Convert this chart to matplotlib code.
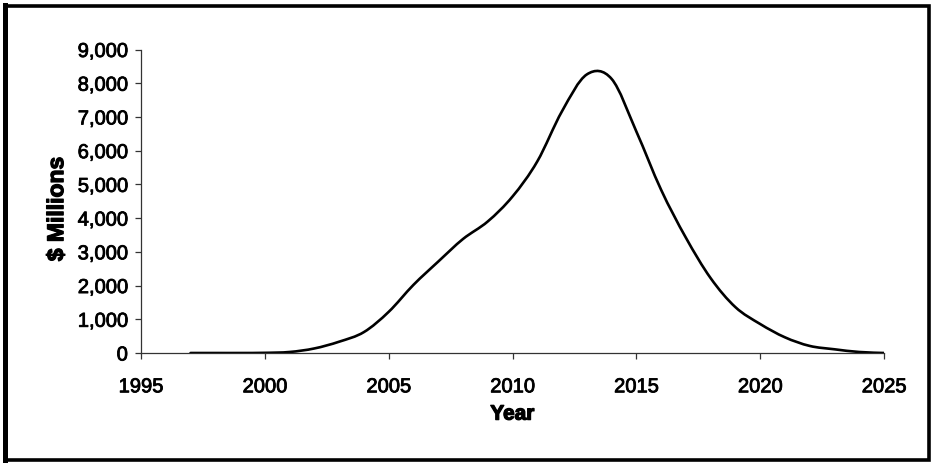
import matplotlib
matplotlib.use("Agg")
import matplotlib.pyplot as plt
import matplotlib.patheffects as pe
from matplotlib.patches import Rectangle, PathPatch
from matplotlib.path import Path
from matplotlib.lines import Line2D
from matplotlib.ticker import FuncFormatter, MultipleLocator

plt.rcParams['font.family'] = ['Liberation Sans', 'DejaVu Sans']

# Annual spending, $ millions
years = list(range(1997, 2026))
spending = [0, 0, 0, 5, 30, 135, 335, 620, 1220, 2020, 2710, 3380, 3900,
            4640, 5680, 7170, 8260, 8130, 6570, 4840, 3420, 2220, 1360,
            860, 465, 210, 110, 30, 0]

x_ticks = [1995, 2000, 2005, 2010, 2015, 2020, 2025]


def smooth_path(xs, ys):
    """Cubic Bezier path through the points (Catmull-Rom style tangents)."""
    pts = list(zip(xs, ys))
    n = len(pts)
    verts = [pts[0]]
    codes = [Path.MOVETO]
    for i in range(n - 1):
        p0 = pts[i - 1] if i > 0 else pts[i]
        p1 = pts[i]
        p2 = pts[i + 1]
        p3 = pts[i + 2] if i + 2 < n else pts[i + 1]
        c1 = (p1[0] + (p2[0] - p0[0]) / 6, p1[1] + (p2[1] - p0[1]) / 6)
        c2 = (p2[0] - (p3[0] - p1[0]) / 6, p2[1] - (p3[1] - p1[1]) / 6)
        verts += [c1, c2, p2]
        codes += [Path.CURVE4] * 3
    return Path(verts, codes)


fig = plt.figure(figsize=(9.32, 4.63), dpi=100)
ax = fig.add_axes([141/932, 1 - 353/463, (884 - 141)/932, (353 - 49.5)/463])

ax.add_patch(PathPatch(smooth_path(years, spending), facecolor='none',
                       edgecolor='black', lw=1.9, capstyle='round',
                       joinstyle='round'))

ax.set_xlim(1995, 2025)
ax.set_ylim(0, 9000)
ax.set_xticks(x_ticks)
ax.yaxis.set_major_locator(MultipleLocator(1000))
ax.yaxis.set_major_formatter(FuncFormatter(lambda v, p: f"{int(v):,}"))

for s in ['top', 'right']:
    ax.spines[s].set_visible(False)
for s in ['left', 'bottom']:
    ax.spines[s].set_color('#333333')
    ax.spines[s].set_linewidth(0.9)

ax.tick_params(axis='both', direction='out', length=4.5, width=0.9,
               color='#333333', labelsize=14.5, labelcolor='black')
ax.tick_params(axis='x', pad=13)
ax.tick_params(axis='y', pad=5)

heavy = [pe.withStroke(linewidth=0.6, foreground='black')]
for lbl in ax.get_xticklabels() + ax.get_yticklabels():
    lbl.set_path_effects(heavy)

bolder = [pe.withStroke(linewidth=0.9, foreground='black')]
ax.set_xlabel('Year', fontsize=15, fontweight='bold', labelpad=6,
              path_effects=bolder)
ax.set_ylabel('$ Millions', fontsize=16.5, fontweight='bold',
              path_effects=bolder)
ax.yaxis.set_label_coords(-0.098, 0.474)

# Outer frame around the whole chart
fig.add_artist(Rectangle((5/932, 1 - 460/463), (929 - 5)/932, (460 - 6)/463,
                         transform=fig.transFigure, fill=False,
                         edgecolor='black', lw=2.6))
fig.add_artist(Line2D([4.5/932, 4.5/932], [1 - 461/463, 1 - 5/463],
                      transform=fig.transFigure, color='black', lw=3.6))

fig.savefig('out.png', dpi=100, facecolor='white')
